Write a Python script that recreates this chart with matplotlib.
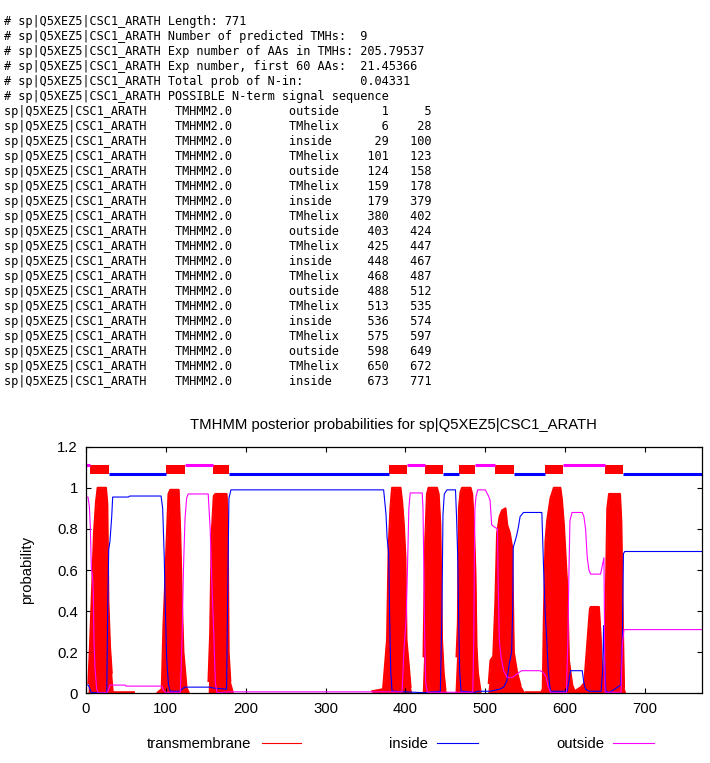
import matplotlib
matplotlib.use("Agg")
import matplotlib.pyplot as plt
import numpy as np
from matplotlib.lines import Line2D
from matplotlib.ticker import FuncFormatter

W, H = 710, 763

seq_id = "sp|Q5XEZ5|CSC1_ARATH"
seq_len = 771

header = [
    "Length: 771",
    "Number of predicted TMHs:  9",
    "Exp number of AAs in TMHs: 205.79537",
    "Exp number, first 60 AAs:  21.45366",
    "Total prob of N-in:        0.04331",
    "POSSIBLE N-term signal sequence",
]

# predicted topology
seg_type = ["outside", "TMhelix", "inside", "TMhelix", "outside", "TMhelix",
            "inside", "TMhelix", "outside", "TMhelix", "inside", "TMhelix",
            "outside", "TMhelix", "inside", "TMhelix", "outside", "TMhelix",
            "inside"]
seg_start = [1, 6, 29, 101, 124, 159, 179, 380, 403, 425, 448, 468, 488,
             513, 536, 575, 598, 650, 673]
seg_end = [5, 28, 100, 123, 158, 178, 379, 402, 424, 447, 467, 487, 512,
           535, 574, 597, 649, 672, 771]

# posterior probabilities (position, prob)
tm_x = [0, 2.5, 3, 5, 7.1, 10, 12.5, 14.6, 25, 26.7, 28, 30, 32.2, 34.3,
        35, 60, 61,
        90, 94.9, 97, 99, 101, 103.3, 105.5, 116, 118, 120, 122, 125.6, 130,
        153, 153.4, 155.5, 157.5, 160, 162, 176, 177.3, 178.6, 180.7, 185,
        358, 358.5, 372, 374.9, 377, 379, 381.2, 383.3, 393.8, 395.9, 398,
        400, 401.3, 404.3, 406.4, 408,
        421, 422.7, 424.8, 427, 429, 439.5, 441.6, 443.7, 445.8, 447.9, 450,
        452,
        462, 464, 465.7, 467, 469, 471, 481.5, 483.6, 485.7, 487.7, 489,
        490.7, 494, 496,
        503, 504.4, 506.5, 510, 512.7, 514.8, 518, 521, 525.3, 527.4, 530.7,
        533.6, 535.7, 539.9, 544, 550, 551, 570,
        572, 573.3, 575.4, 577.5, 581.7, 585.9, 594, 596, 598.4, 602.6,
        604.7, 608.9, 612,
        620, 624, 627.7, 631, 632, 642.3, 644.4, 646.5, 648,
        649.9, 652.8, 655, 668.7, 670.4, 672.5, 673.7, 676, 771]
tm_y = [0, 0, 0.05, 0.23, 0.45, 0.78, 0.93, 1.0, 1.0, 0.92, 0.45, 0.23, 0.1, 0,
        0.005, 0.005, 0,
        0.005, 0.02, 0.33, 0.52, 0.74, 0.97, 0.99, 0.99, 0.78, 0.45, 0.2, 0.04, 0,
        0, 0.06, 0.29, 0.78, 0.96, 0.97, 0.97, 0.87, 0.2, 0.06, 0,
        0, 0.01, 0.02, 0.16, 0.26, 0.71, 0.9, 1.0, 1.0, 0.93, 0.82,
        0.66, 0.26, 0.13, 0.03, 0,
        0, 0.18, 0.74, 0.97, 1.0, 1.0, 0.97, 0.82, 0.26, 0.1, 0.02,
        0,
        0, 0.18, 0.34, 0.9, 0.98, 1.0, 1.0, 0.97, 0.82, 0.58, 0.23,
        0.1, 0.01, 0,
        0, 0.05, 0.16, 0.18, 0.45, 0.78, 0.86, 0.89, 0.9, 0.82, 0.78,
        0.71, 0.2, 0.1, 0.04, 0, 0.005, 0.005,
        0.02, 0.36, 0.74, 0.84, 0.95, 1.0, 1.0, 0.94, 0.82, 0.52,
        0.16, 0.04, 0.01,
        0.03, 0.05, 0.24, 0.41, 0.42, 0.42, 0.28, 0.07, 0.03,
        0.23, 0.9, 0.97, 0.97, 0.83, 0.28, 0.03, 0, 0]

in_x = [0, 3, 5, 6.7, 26, 27.2, 28.5, 30, 32.2, 33.4, 53, 55, 94, 96, 98, 99,
        101, 103.3, 105.5, 118, 120, 124, 155.5, 160, 176, 177.3, 179, 181.5,
        372.7, 375.7, 377, 379, 380.4, 381.6, 383.3, 423, 443.7, 445.8, 447,
        448.7, 452, 462.7, 464, 465.5, 466.7, 468, 469.7, 487.7, 490, 506,
        518, 523, 527, 530.3, 533, 534.4, 535, 537.3, 539.4, 541.5, 543.6,
        547.8, 570.8, 573, 575, 577, 579, 581.5, 602.6, 604.7, 606.7, 621.4,
        623.5, 625.6, 630, 645, 647, 648.2, 649, 651, 655, 669.6, 671.7, 673,
        674.6, 771]
in_y = [0.04, 0.04, 0.02, 0.003, 0.003, 0.42, 0.7, 0.74, 0.86, 0.955, 0.955,
        0.96, 0.96, 0.9, 0.66, 0.46, 0.17, 0.04, 0.01, 0.01, 0.02, 0.03,
        0.03, 0.025, 0.02, 0.45, 0.95, 0.99, 0.99, 0.87, 0.76, 0.68, 0.33,
        0.1, 0.01, 0.003, 0.01, 0.42, 0.87, 0.97, 0.99, 0.99, 0.86, 0.66,
        0.35, 0.1, 0.01, 0.005, 0.01, 0.01, 0.02, 0.03, 0.06, 0.15, 0.2,
        0.43, 0.71, 0.74, 0.77, 0.81, 0.86, 0.88, 0.88, 0.61, 0.39, 0.26,
        0.1, 0.01, 0.01, 0.06, 0.11, 0.11, 0.05, 0.02, 0.01, 0.01, 0.11,
        0.33, 0.2, 0.01, 0.003, 0.04, 0.29, 0.68, 0.69, 0.69]

out_x = [0, 2.5, 4.2, 5.4, 6.7, 8.4, 9.2, 10, 11.3, 13.4, 15, 26, 28, 30, 49,
         50, 95, 97, 99, 118, 119, 120.5, 122, 124, 126, 128, 153, 155.5,
         157.5, 160, 162, 164, 181, 395.8, 398, 401, 402.5, 404.3, 406, 421,
         422, 423, 424, 425.4, 427.5, 484.3, 485.6, 486.5, 487, 488.5, 490.6,
         500, 504, 506, 508, 511, 515.3, 516, 517.5, 519.6, 523, 527, 531,
         535, 541.5, 545.6, 568.7, 573, 576, 579, 582, 601.6, 603.4, 604.7,
         606, 608.6, 621.4, 623.5, 625.6, 626.9, 627.7, 629.8, 631.9, 644.4,
         646.5, 648.6, 649.9, 670, 671.7, 673.7, 771]
out_y = [0.955, 0.955, 0.91, 0.81, 0.61, 0.56, 0.48, 0.25, 0.12, 0.02, 0.003,
         0.003, 0.015, 0.04, 0.04, 0.035, 0.035, 0.015, 0.005, 0.005, 0.1,
         0.3, 0.6, 0.85, 0.95, 0.97, 0.97, 0.8, 0.55, 0.29, 0.05, 0.003,
         0.007, 0.007, 0.2, 0.37, 0.6, 0.9, 0.975, 0.975, 0.9, 0.62, 0.3,
         0.05, 0.005, 0.005, 0.26, 0.74, 0.9, 0.96, 0.99, 0.99, 0.96, 0.94,
         0.82, 0.81, 0.8, 0.57, 0.26, 0.18, 0.11, 0.08, 0.075, 0.08, 0.1,
         0.11, 0.11, 0.1, 0.08, 0.03, 0.003, 0.003, 0.26, 0.58, 0.84, 0.88,
         0.88, 0.86, 0.8, 0.71, 0.66, 0.6, 0.58, 0.58, 0.62, 0.66, 0.005,
         0.005, 0.24, 0.31, 0.31]

SANS = ["Liberation Sans", "DejaVu Sans"]
MONO = ["DejaVu Sans Mono"]


def px(x, y):
    # pixel position -> figure fraction
    return x / W, 1 - y / H


def draw_header(fig):
    lines = [f"# {seq_id} {h}" for h in header]
    for t, s, e in zip(seg_type, seg_start, seg_end):
        lines.append(f"{seq_id}\tTMHMM2.0\t{t}\t{s:6d}{e:6d}".expandtabs(8))
    for i, line in enumerate(lines):
        fig.text(*px(4, 25 + 15 * i), line, family=MONO, fontsize=8.57,
                 va="baseline", ha="left")


def draw_plot(fig):
    ax = fig.add_axes([86 / W, 1 - 693.3 / H, 615.7 / W, 246.6 / H])
    # thick impulses in the original -> fill plus a fat outline (not on y=0)
    ax.fill_between(tm_x, 0, tm_y, color="red", lw=0)
    tm_top = np.where(np.array(tm_y) > 0, tm_y, np.nan)
    ax.plot(tm_x, tm_top, color="red", lw=1.5)
    ax.plot(in_x, in_y, color="blue", lw=0.8)
    ax.plot(out_x, out_y, color="magenta", lw=0.8)

    # topology bars above the curves
    for t, s, e in zip(seg_type, seg_start, seg_end):
        if t == "TMhelix":
            ax.fill_between([s - 0.5, e + 0.5], 1.066, 1.113, color="red", lw=0)
        elif t == "inside":
            ax.plot([s - 0.5, e + 0.5], [1.068, 1.068], color="blue", lw=2.2,
                    solid_capstyle="butt")
        else:
            ax.plot([s - 0.5, e + 0.5], [1.110, 1.110], color="magenta", lw=2.2,
                    solid_capstyle="butt")

    ax.set_xlim(0, seq_len)
    ax.set_ylim(0, 1.2)
    ax.set_xticks(range(0, 701, 100))
    ax.set_yticks([0, 0.2, 0.4, 0.6, 0.8, 1.0, 1.2])
    ax.yaxis.set_major_formatter(FuncFormatter(lambda v, p: f"{v:g}"))
    ax.tick_params(direction="in", top=True, right=True, length=3.5,
                   width=0.8, labelsize=10.7, pad=6)
    for lab in ax.get_xticklabels() + ax.get_yticklabels():
        lab.set_family(SANS)
    for sp in ax.spines.values():
        sp.set_linewidth(0.9)
        sp.set_zorder(5)

    fig.text(*px(393.8, 429), f"TMHMM posterior probabilities for {seq_id}",
             family=SANS, fontsize=10.7, ha="center", va="baseline")
    fig.text(*px(27, 570), "probability", family=SANS, fontsize=10.7,
             rotation=90, ha="center", va="center")

    # legend under the axes
    legend = [("transmembrane", "red", 251, 262, 301),
              ("inside", "blue", 428, 437, 478),
              ("outside", "magenta", 604, 613, 654)]
    for label, col, tx, x0, x1 in legend:
        fig.text(*px(tx, 748), label, family=SANS, fontsize=10.7,
                 ha="right", va="baseline")
        fig.add_artist(Line2D([x0 / W, x1 / W], [1 - 743 / H] * 2,
                              color=col, lw=0.8))


def main():
    fig = plt.figure(figsize=(W / 100, H / 100), dpi=100)
    draw_header(fig)
    draw_plot(fig)
    fig.savefig("out.png", dpi=100)


if __name__ == "__main__":
    main()
